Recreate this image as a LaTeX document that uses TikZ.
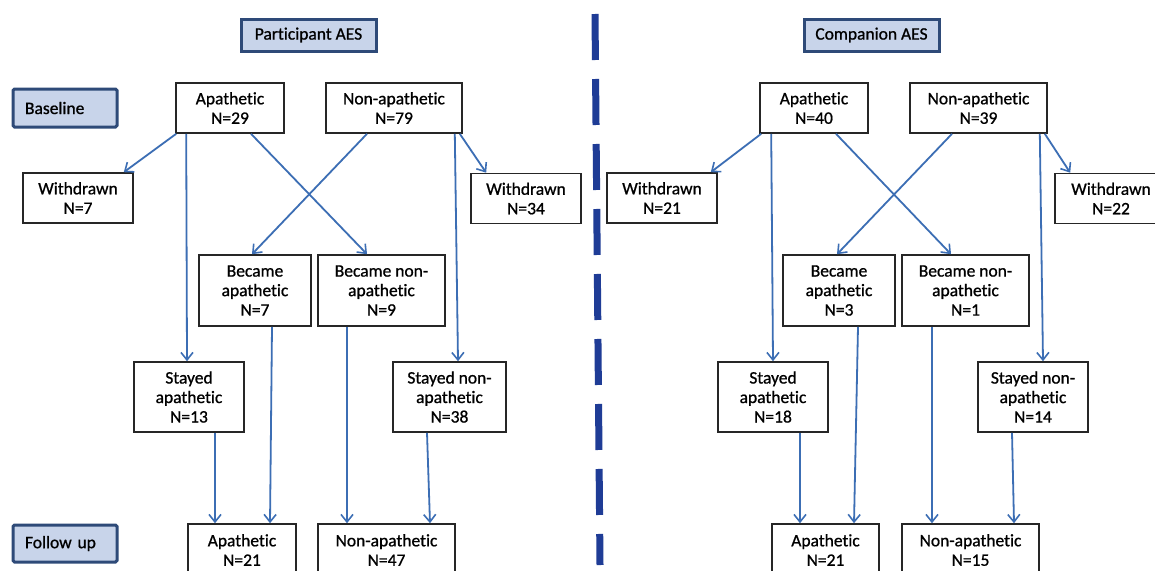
\documentclass[tikz,border=0pt]{standalone}
\usepackage{fontspec}
\setmainfont[FakeBold=0.9, RawFeature=-liga]{Carlito}
\usetikzlibrary{arrows.meta}

\definecolor{arrowblue}{RGB}{60,110,180}
\definecolor{dividerblue}{RGB}{31,60,150}
\definecolor{headline}{RGB}{46,74,120}
\definecolor{headfill}{RGB}{200,212,234}

\tikzset{
    box/.style={draw=black!85, line width=1.6pt, fill=white, align=center,
        inner sep=0pt, font=\fontsize{17.5}{19.5}\selectfont},
    headbox/.style={draw=headline, line width=3pt, fill=headfill, inner sep=0pt,
        minimum height=32, font=\fontsize{17.5}{19.5}\selectfont},
    phasebox/.style={headbox, rounded corners=1.5pt, text width=80pt, align=left,
        inner xsep=12pt},
    arr/.style={draw=arrowblue, line width=1.8pt,
        -{Straight Barb[length=7.5pt,width=12pt,line width=1.6pt]}},
}

\begin{document}
\begin{tikzpicture}[x=1pt, y=-1pt]
\useasboundingbox (0,0) rectangle (1155,570);
\clip (0,0) rectangle (1155,570);
\fill[white] (0,0) rectangle (1155,570);

% headers
\node[headbox, minimum width=135] (hPart) at (308.5,35) {Participant AES};
\node[headbox, minimum width=135] (hComp) at (871.5,35) {Companion AES};
\node[phasebox, minimum height=38] (base) at (65,108) {Baseline};
\node[phasebox, minimum height=37] (follow) at (65,543.5) {Follow up};

% divider
\draw[dividerblue, line width=7pt, dash pattern=on 46pt off 19pt] (595,14) -- (600,565);

% participant side
\node[box, minimum width=108, minimum height=50] (pA) at (230,108) {Apathetic\\N=29};
\node[box, minimum width=136, minimum height=50] (pN) at (394,108) {Non-apathetic\\N=79};
\node[box, minimum width=110, minimum height=50] (pWa) at (78,198) {Withdrawn\\N=7};
\node[box, minimum width=110, minimum height=50] (pWn) at (526,198.5) {Withdrawn\\N=34};
\node[box, minimum width=112, minimum height=71] (pBa) at (255,290.5) {Became\\apathetic\\N=7};
\node[box, minimum width=127, minimum height=71] (pBn) at (381.5,290.5) {Became non-\\apathetic\\N=9};
\node[box, minimum width=110, minimum height=70] (pSa) at (189,397) {Stayed\\apathetic\\N=13};
\node[box, minimum width=113, minimum height=70] (pSn) at (449.5,397) {Stayed non-\\apathetic\\N=38};
\node[box, minimum width=108, minimum height=52] (pFa) at (242,550) {Apathetic\\N=21};
\node[box, minimum width=137, minimum height=52] (pFn) at (386.5,550) {Non-apathetic\\N=47};

\draw[arr] ([xshift=1pt]pA.south west) -- ([xshift=-10pt]pWa.north east);
\draw[arr] ([xshift=11pt]pA.south west) -- ([xshift=-2pt]pSa.north);
\draw[arr] ([xshift=21pt]pA.south) -- ([xshift=-14.5pt]pBn.north);
\draw[arr] ([xshift=-27pt]pN.south) -- ([xshift=-3pt]pBa.north);
\draw[arr] ([xshift=-8pt]pN.south east) -- ([xshift=8.5pt]pSn.north);
\draw[arr] ([xshift=-3pt]pN.south east) -- ([xshift=16pt]pWn.north west);
\draw[arr] ([xshift=17pt]pBa.south) -- ([xshift=28pt]pFa.north);
\draw[arr] ([xshift=26pt]pSa.south) -- ([xshift=-27pt]pFa.north);
\draw[arr] ([xshift=-34.5pt]pBn.south) -- ([xshift=-39.5pt]pFn.north);
\draw[arr] ([xshift=-22.5pt]pSn.south) -- ([xshift=43.5pt]pFn.north);

% companion side
\node[box, minimum width=108, minimum height=50] (cA) at (814,108) {Apathetic\\N=40};
\node[box, minimum width=137, minimum height=50] (cN) at (978.5,108) {Non-apathetic\\N=39};
\node[box, minimum width=110, minimum height=50] (cWa) at (662,198) {Withdrawn\\N=21};
\node[box, minimum width=112, minimum height=50] (cWn) at (1111,198.5) {Withdrawn\\N=22};
\node[box, minimum width=112, minimum height=71] (cBa) at (839,290.5) {Became\\apathetic\\N=3};
\node[box, minimum width=127, minimum height=71] (cBn) at (965.5,290.5) {Became non-\\apathetic\\N=1};
\node[box, minimum width=110, minimum height=70] (cSa) at (773,397) {Stayed\\apathetic\\N=18};
\node[box, minimum width=110, minimum height=70] (cSn) at (1033,397) {Stayed non-\\apathetic\\N=14};
\node[box, minimum width=107, minimum height=52] (cFa) at (825.5,550) {Apathetic\\N=21};
\node[box, minimum width=137, minimum height=52] (cFn) at (970.5,550) {Non-apathetic\\N=15};

\draw[arr] ([xshift=2pt]cA.south west) -- ([xshift=-7pt]cWa.north east);
\draw[arr] ([xshift=12pt]cA.south west) -- (cSa.north);
\draw[arr] ([xshift=22pt]cA.south) -- ([xshift=-14.5pt]cBn.north);
\draw[arr] ([xshift=-26.5pt]cN.south) -- ([xshift=-2pt]cBa.north);
\draw[arr] ([xshift=-8pt]cN.south east) -- ([xshift=10pt]cSn.north);
\draw[arr] ([xshift=-3pt]cN.south east) -- ([xshift=16pt]cWn.north west);
\draw[arr] ([xshift=19pt]cBa.south) -- ([xshift=28.5pt]cFa.north);
\draw[arr] ([xshift=27pt]cSa.south) -- ([xshift=-25.5pt]cFa.north);
\draw[arr] ([xshift=-33.5pt]cBn.south) -- ([xshift=-38.5pt]cFn.north);
\draw[arr] ([xshift=-21pt]cSn.south) -- ([xshift=43.5pt]cFn.north);
\end{tikzpicture}
\end{document}
